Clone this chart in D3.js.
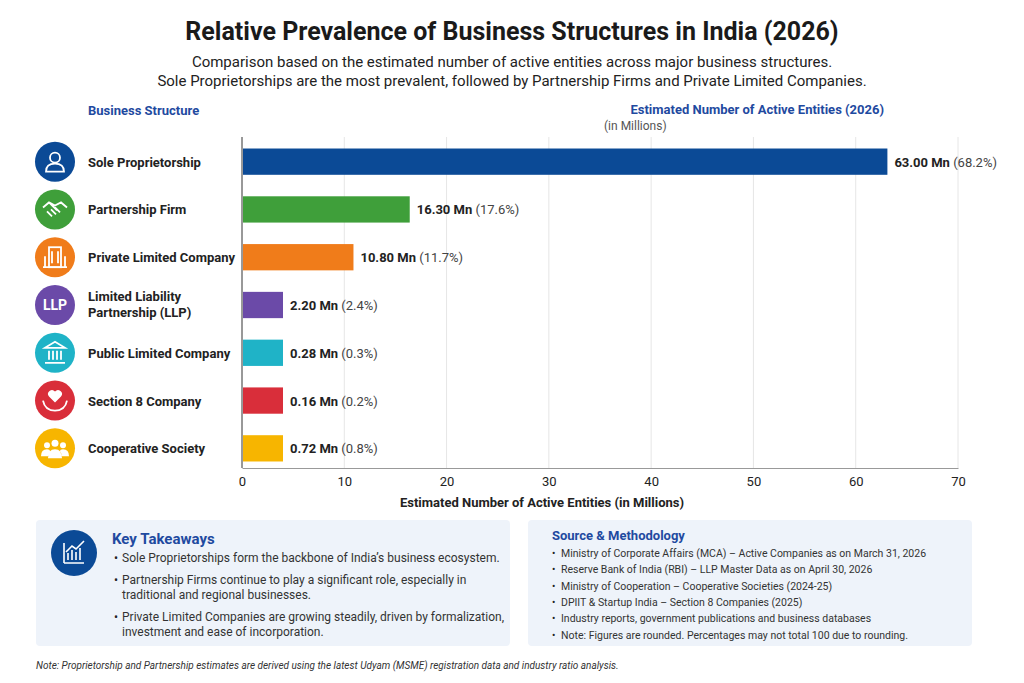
<!DOCTYPE html>
<html><head><meta charset="utf-8">
<script src="https://cdn.jsdelivr.net/npm/d3@7"></script>
<style>body{margin:0;background:#fff}svg{display:block;font-family:Roboto,"Liberation Sans",sans-serif}</style>
</head><body><svg id="c" width="1024" height="683"></svg>
<script>
const categories=["Sole Proprietorship","Partnership Firm","Private Limited Company","Limited Liability Partnership (LLP)","Public Limited Company","Section 8 Company","Cooperative Society"];
const values=[63.00,16.30,10.80,2.20,0.28,0.16,0.72];
const percents=[68.2,17.6,11.7,2.4,0.3,0.2,0.8];
const colors=["#0b4a96","#3f9f3a","#f07c1a","#6b4aa8","#1fb3c7","#d92e3a","#f7b500"];
const ticks=[0,10,20,30,40,50,60,70];
const takeaways=[["Sole Proprietorships form the backbone of India’s business ecosystem."],["Partnership Firms continue to play a significant role, especially in","traditional and regional businesses."],["Private Limited Companies are growing steadily, driven by formalization,","investment and ease of incorporation."]];
const sources=["Ministry of Corporate Affairs (MCA) – Active Companies as on March 31, 2026","Reserve Bank of India (RBI) – LLP Master Data as on April 30, 2026","Ministry of Cooperation – Cooperative Societies (2024-25)","DPIIT & Startup India – Section 8 Companies (2025)","Industry reports, government publications and business databases","Note:  Figures are rounded. Percentages may not total 100 due to rounding."];

const svg=d3.select("#c");
const t=(x,y,s,o={})=>svg.append("text").attr("x",x).attr("y",y).text(s).attr("font-size",o.fs||13).attr("font-weight",o.fw||400).attr("fill",o.c||"#222").attr("text-anchor",o.a||"start").attr("font-style",o.it||"normal");
t(512,40,"Relative Prevalence of Business Structures in India (2026)",{fs:25,fw:700,a:"middle",c:"#1a1a1a"});
t(512,67,"Comparison based on the estimated number of active entities across major business structures.",{fs:15,a:"middle"});
t(512,86,"Sole Proprietorships are the most prevalent, followed by Partnership Firms and Private Limited Companies.",{fs:15,a:"middle"});
t(88,115,"Business Structure",{fs:13,fw:700,c:"#1f4aa0"});
t(884,114,"Estimated Number of Active Entities (2026)",{fs:13,fw:700,c:"#1f4aa0",a:"end"});
t(604,130,"(in Millions)",{fs:12,c:"#555"});

const x=d3.scaleLinear().domain([0,70]).range([242,958]);
const y=d3.scaleBand().domain(categories).range([138,472]).paddingInner(0.45).paddingOuter(0.22);
const g=svg.append("g");
g.selectAll("line.grid").data(ticks.slice(1)).join("line").attr("x1",d=>x(d)).attr("x2",d=>x(d)).attr("y1",137).attr("y2",468).attr("stroke","#e6e6e6");
g.append("line").attr("x1",242).attr("x2",242).attr("y1",137).attr("y2",468).attr("stroke","#333");
svg.append("g").attr("transform","translate(0,468)").call(d3.axisBottom(x).tickValues(ticks).tickSize(0).tickPadding(9))
 .call(a=>{a.select(".domain").attr("stroke","#999");a.selectAll("text").attr("font-size",13).attr("fill","#222").attr("font-family","Roboto,sans-serif");});
t(542,507,"Estimated Number of Active Entities (in Millions)",{fs:13,fw:700,a:"middle"});

const w=v=>Math.max(x(v)-x(0),40);
g.selectAll("rect.bar").data(categories).join("rect").attr("x",x(0)+1).attr("y",d=>y(d)).attr("height",y.bandwidth()).attr("width",(d,i)=>w(values[i])).attr("fill",(d,i)=>colors[i]);
categories.forEach((c,i)=>{
 const cy=y(c)+y.bandwidth()/2;
 const tx=svg.append("text").attr("x",x(0)+w(values[i])+8).attr("y",cy+5).attr("font-size",13).attr("fill","#222");
 tx.append("tspan").attr("font-weight",700).text(values[i].toFixed(2)+" Mn");
 tx.append("tspan").attr("fill","#444").text(" ("+percents[i]+"%)");
 svg.append("circle").attr("cx",55).attr("cy",cy).attr("r",20).attr("fill",colors[i]);
 if(c.includes("(LLP)")){t(88,cy-4,"Limited Liability",{fw:700});t(88,cy+12,"Partnership (LLP)",{fw:700});}
 else t(88,cy+5,c,{fw:700});
 const ic=svg.append("g").attr("transform",`translate(55,${cy})`).attr("fill","none").attr("stroke","#fff").attr("stroke-width",1.8);
 if(i==0){ic.append("circle").attr("cy",-4).attr("r",5);ic.append("path").attr("d","M-9,10 Q-9,2 0,2 Q9,2 9,10 Z");}
 else if(i==1){ic.append("path").attr("d","M-12,-2 L-6,-7 L0,-4 L6,-7 L12,-2 M-8,2 L-3,7 M-4,0 L1,5 M0,-2 L5,3 M-6,-7 L2,1");}
 else if(i==2){ic.append("rect").attr("x",-6).attr("y",-10).attr("width",12).attr("height",20);ic.append("path").attr("d","M-12,10 H12 M-3,-6 V6 M3,-6 V6 M-10,10 V-1 M10,10 V-1");}
 else if(i==3){ic.append("text").attr("text-anchor","middle").attr("y",5).attr("fill","#fff").attr("stroke","none").attr("font-size",14).attr("font-weight",700).text("LLP");}
 else if(i==4){ic.append("path").attr("d","M-10,-5 L0,-11 L10,-5 Z M-10,10 H10 M-6,-2 V7 M-2,-2 V7 M2,-2 V7 M6,-2 V7");}
 else if(i==5){ic.append("path").attr("fill","#fff").attr("stroke","none").attr("d","M0,2 L-6,-4 A3.5,3.5 0 0 1 0,-9 A3.5,3.5 0 0 1 6,-4 Z");ic.append("path").attr("d","M-12,0 Q-10,10 0,10 Q10,10 12,0");}
 else {ic.attr("fill","#fff").attr("stroke","none");[[-8,-3,3],[8,-3,3],[0,-5,3.5]].forEach(p=>ic.append("circle").attr("cx",p[0]).attr("cy",p[1]).attr("r",p[2]));ic.append("path").attr("d","M-7,10 Q-7,1 0,1 Q7,1 7,10 Z M-14,8 Q-14,1 -8,1 Q-5,1 -5,3 L-7,8 Z M14,8 Q14,1 8,1 Q5,1 5,3 L7,8 Z");}
});

svg.append("rect").attr("x",36).attr("y",520).attr("width",474).attr("height",126).attr("rx",4).attr("fill","#eef3fa");
svg.append("rect").attr("x",528).attr("y",520).attr("width",444).attr("height",126).attr("rx",4).attr("fill","#eef3fa");
svg.append("circle").attr("cx",74).attr("cy",553).attr("r",23).attr("fill","#0b4a96");
svg.append("path").attr("d","M64,563 V543 M64,563 H84 M68,560 V553 M72,560 V550 M76,560 V552 M80,560 V548 M66,552 L72,546 L76,549 L84,541").attr("stroke","#fff").attr("stroke-width",1.6).attr("fill","none");
t(112,544,"Key Takeaways",{fs:15,fw:700,c:"#1f4aa0"});
let yy=562;
takeaways.forEach(b=>{t(114,yy,"•",{fs:12});b.forEach((l,k)=>t(122,yy+k*15,l,{fs:12,c:"#333"}));yy+=b.length*15+7;});
t(552,540,"Source & Methodology",{fs:13,fw:700,c:"#1f4aa0"});
sources.forEach((s,i)=>{t(552,557+i*16.3,"•",{fs:10});t(561,557+i*16.3,s,{fs:10.5,c:"#333"});});
t(36,669,"Note: Proprietorship and Partnership estimates are derived using the latest Udyam (MSME) registration data and industry ratio analysis.",{fs:10,it:"italic",c:"#333"});
</script></body></html>
